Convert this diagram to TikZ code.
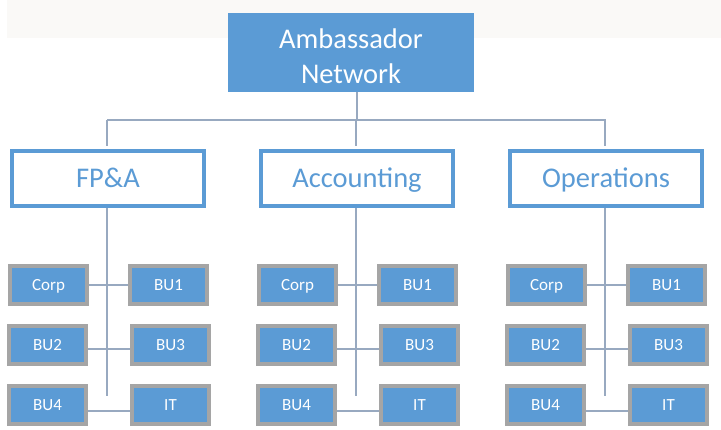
\documentclass[tikz,border=0pt]{standalone}
\usepackage{fontspec}
\setmainfont{Carlito}
\definecolor{boxblue}{HTML}{5B9BD5}
\definecolor{boxgray}{HTML}{A5A5A5}
\definecolor{linecol}{HTML}{98A9C0}
\definecolor{band}{HTML}{FAF9F7}
\begin{document}
\begin{tikzpicture}[x=1pt,y=-1pt,
  topbox/.style={fill=boxblue,text=white,minimum width=246pt,minimum height=79pt,inner sep=0pt,align=center,font=\fontsize{28.5}{35}\selectfont},
  deptbox/.style={draw=boxblue,line width=4pt,fill=white,text=boxblue,minimum width=192pt,minimum height=55pt,inner sep=0pt,text height=24pt,text depth=5pt,font=\fontsize{28.5}{34}\selectfont},
  subbox/.style={draw=boxgray,line width=4pt,fill=boxblue,text=white,minimum width=77pt,minimum height=38pt,inner sep=0pt,text height=13pt,text depth=1.6pt,font=\fontsize{17}{20}\selectfont},
  conn/.style={draw=linecol,line width=2pt}]
\useasboundingbox (0,0) rectangle (721,430);
\fill[band] (7,0) rectangle (721,38);
\node[topbox] (top) at (351,52.5) {\rule{0pt}{26.6pt}Ambassador\\Network};
\coordinate (hl) at (107,120);
\coordinate (hr) at (606,120);
\coordinate (hm) at (357,120);
\foreach \g/\lab/\dx in {a/FP\&A/0, b/Accounting/249, c/Operations/498}{
  \node[deptbox] (\g d) at (108+\dx,178.5) {\lab};
  \coordinate (\g t) at (107+\dx,146);
  \coordinate (\g h) at (107+\dx,120);
  \coordinate (\g e) at (107+\dx,396);
  \draw[conn] (\g d.south -| \g e) -- (\g e);
  \draw[conn] (\g h) -- (\g t);
  \node[subbox] (\g1) at (48.5+\dx,285) {Corp};
  \node[subbox] (\g2) at (168.5+\dx,285) {BU1};
  \node[subbox] (\g3) at (47.5+\dx,345) {BU2};
  \node[subbox] (\g4) at (170.5+\dx,345) {BU3};
  \node[subbox] (\g5) at (47.5+\dx,405) {BU4};
  \node[subbox] (\g6) at (170.5+\dx,405) {IT};
  \draw[conn] (\g1.east) -- (\g2.west);
  \draw[conn] ([yshift=-4pt]\g3.east) -- ([yshift=-4pt]\g4.west);
  \draw[conn] ([yshift=-6pt]\g5.east) -- ([yshift=-6pt]\g6.west);
}
\draw[conn] (hl) -- (hr);
\draw[conn] (top.south -| hm) -- (hm);
\end{tikzpicture}
\end{document}
